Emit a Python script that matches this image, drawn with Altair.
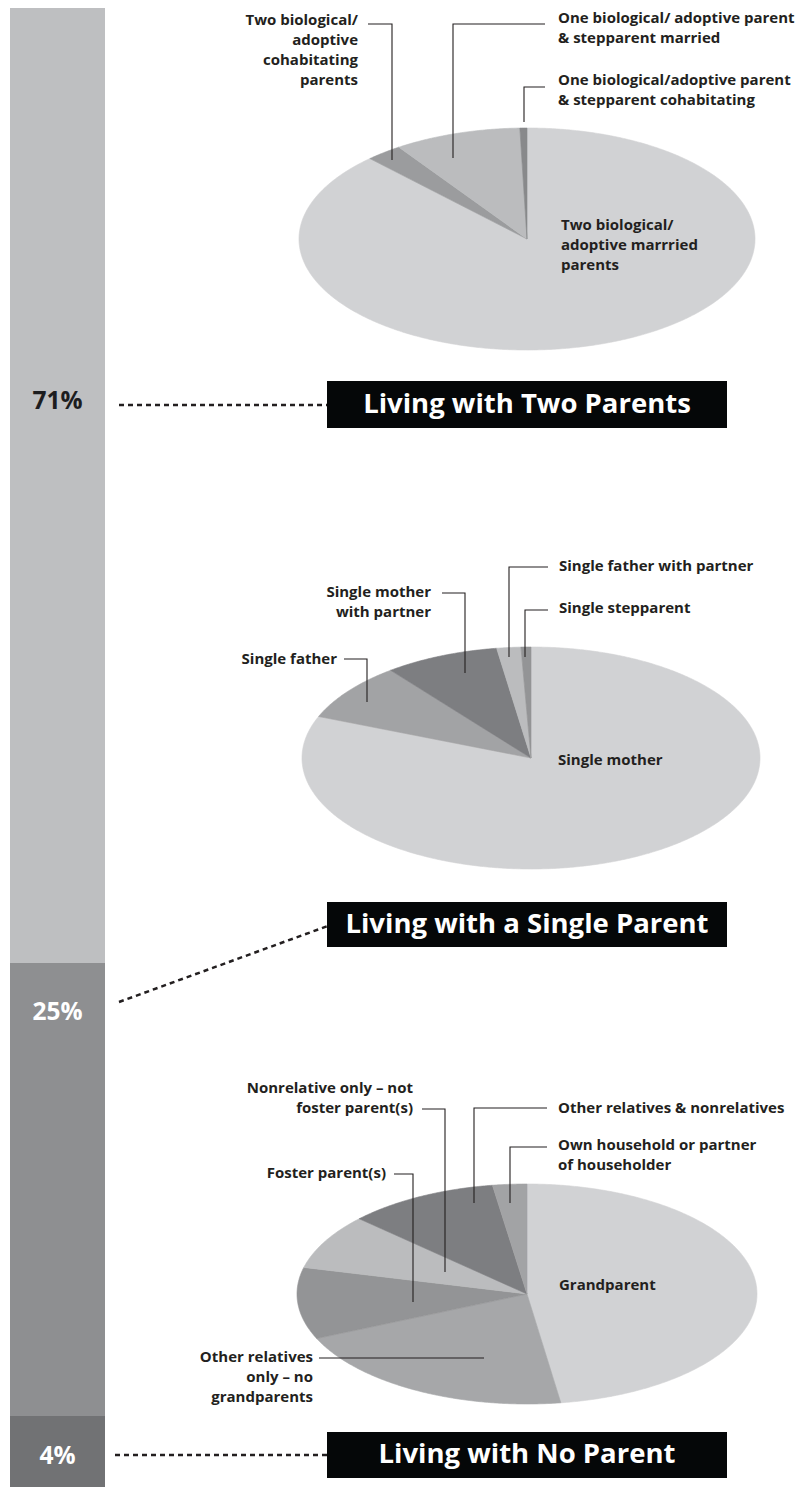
import altair as alt
import numpy as np
import pandas as pd

# ---------------- data ----------------
group_labels = ["Living with Two Parents", "Living with a Single Parent", "Living with No Parent"]
group_pcts = [71, 25, 4]

# each category written as its printed label lines
two_parent_cats = [
    ["Two biological/", "adoptive marrried", "parents"],
    ["Two biological/", "adoptive", "cohabitating", "parents"],
    ["One biological/ adoptive parent", "& stepparent married"],
    ["One biological/adoptive parent", "& stepparent cohabitating"],
]
two_parent_vals = [87.9, 2.6, 9.0, 0.5]

single_parent_cats = [
    ["Single mother"],
    ["Single father"],
    ["Single mother", "with partner"],
    ["Single father with partner"],
    ["Single stepparent"],
]
single_parent_vals = [81.1, 8.4, 8.1, 1.7, 0.7]

no_parent_cats = [
    ["Grandparent"],
    ["Other relatives", "only \u2013 no", "grandparents"],
    ["Foster parent(s)"],
    ["Nonrelative only \u2013 not", "foster parent(s)"],
    ["Other relatives & nonrelatives"],
    ["Own household or partner", "of householder"],
]
no_parent_vals = [47.6, 20.7, 10.5, 8.1, 10.6, 2.4]

# ---------------- styles ----------------
two_colors = ["#d1d2d4", "#9b9c9e", "#bbbcbe", "#88898b"]
single_colors = ["#d1d2d4", "#a2a3a5", "#7d7e81", "#bbbcbe", "#939496"]
none_colors = ["#d1d2d4", "#a6a7a9", "#939496", "#bbbcbe", "#7d7e81", "#a2a3a5"]
bar_colors = ["#bebfc1", "#8e8f91", "#717274"]
pct_text_colors = ["#1d1d1f", "#ffffff", "#ffffff"]
INK = "#231f20"
FONT = "Open Sans"
LABEL_SIZE = 15

# ---------------- layout (page pixels) ----------------
W, H = 796, 1471
X0, Y0 = 8, 8
xs = alt.Scale(domain=[X0, X0 + W], nice=False, zero=False)
ys = alt.Scale(domain=[Y0, Y0 + H], nice=False, zero=False, reverse=True)

pie_geom = [(527, 239, 228, 111), (531, 758, 229, 111), (527, 1294, 230, 110)]
bar_x = (10, 105)
bar_edges = [8, 963, 1416, 1487]
pct_y = [402, 1013, 1457]
box_x = (327, 727)
box_y = [(381, 428), (902, 947), (1432, 1478)]
dash_paths = [[(119, 405), (338, 405)], [(119, 1002), (336, 923)], [(115, 1455), (344, 1455)]]
LINE_H = 20

two_label_pos = [(561, 225, "left"), (358, 20, "right"), (558, 18, "left"), (558, 80, "left")]
two_leaders = [None, [(368, 24), (392, 24), (392, 160)], [(545, 24), (453, 24), (453, 158)],
               [(545, 87), (524, 87), (524, 122)]]
single_label_pos = [(558, 760, "left"), (337, 659, "right"), (431, 592, "right"),
                    (559, 566, "left"), (559, 608, "left")]
single_leaders = [None, [(344, 659), (367, 659), (367, 702)], [(442, 593), (465, 593), (465, 673)],
                  [(548, 567), (509, 567), (509, 657)], [(548, 610), (525, 610), (525, 657)]]
none_label_pos = [(559, 1285, "left"), (313, 1357, "right"), (386, 1173, "right"),
                  (413, 1088, "right"), (558, 1108, "left"), (558, 1145, "left")]
none_leaders = [None, [(319, 1358), (484, 1358)], [(394, 1174), (413, 1174), (413, 1302)],
                [(422, 1109), (445, 1109), (445, 1272)], [(547, 1108), (474, 1108), (474, 1203)],
                [(547, 1147), (510, 1147), (510, 1203)]]

pies = [
    (two_parent_cats, two_parent_vals, two_colors, two_label_pos, two_leaders),
    (single_parent_cats, single_parent_vals, single_colors, single_label_pos, single_leaders),
    (no_parent_cats, no_parent_vals, none_colors, none_label_pos, none_leaders),
]

# ---------------- build tables ----------------
slice_rows, text_rows, leader_rows = [], [], []
keys, key_colors = [], []
for p, (cats, vals, cols, lpos, leads) in enumerate(pies):
    cx, cy, rx, ry = pie_geom[p]
    total = float(sum(vals))
    start = 0.0
    for i, (lines, v) in enumerate(zip(cats, vals)):
        end = start + v / total * 360.0
        key = f"p{p}s{i}"
        keys.append(key)
        key_colors.append(cols[i])
        n = max(3, int((end - start) / 0.5) + 2)
        angs = np.radians(np.linspace(start, end, n))
        pts = [(cx, cy)] + [(cx + rx * np.sin(a), cy - ry * np.cos(a)) for a in angs] + [(cx, cy)]
        for j, (x, y) in enumerate(pts):
            slice_rows.append(dict(key=key, idx=j, x=x, y=y))
        start = end
        ax, ay, al = lpos[i]
        for k, t in enumerate(lines):
            text_rows.append(dict(text=t, x=ax, y=ay + k * LINE_H, side=al))
        if leads[i]:
            for j, (x, y) in enumerate(leads[i]):
                leader_rows.append(dict(key=key, idx=j, x=x, y=y))

slice_df = pd.DataFrame(slice_rows)
text_df = pd.DataFrame(text_rows)
leader_df = pd.DataFrame(leader_rows)

bar_df = pd.DataFrame(dict(
    grp=group_labels, pct=group_pcts,
    x=[bar_x[0]] * 3, x2=[bar_x[1]] * 3,
    y=bar_edges[:-1], y2=bar_edges[1:],
    ptxt=[f"{v}%" for v in group_pcts],
    px=[(bar_x[0] + bar_x[1]) / 2] * 3, py=pct_y,
))
box_df = pd.DataFrame(dict(
    grp=group_labels, x=[box_x[0]] * 3, x2=[box_x[1]] * 3,
    y=[b[0] for b in box_y], y2=[b[1] for b in box_y],
    tx=[(box_x[0] + box_x[1]) / 2] * 3, ty=[(b[0] + b[1]) / 2 for b in box_y],
))
dash_df = pd.DataFrame([dict(g=g, idx=j, x=x, y=y)
                        for g, path in enumerate(dash_paths) for j, (x, y) in enumerate(path)])

X = lambda f: alt.X(f, scale=xs, axis=None)
Y = lambda f: alt.Y(f, scale=ys, axis=None)

fill_scale = alt.Scale(domain=keys, range=key_colors)
bar_scale = alt.Scale(domain=group_labels, range=bar_colors)
pct_scale = alt.Scale(domain=group_labels, range=pct_text_colors)

bars = alt.Chart(bar_df).mark_rect().encode(
    x=X("x:Q"), x2="x2:Q", y=Y("y:Q"), y2="y2:Q",
    fill=alt.Fill("grp:N", scale=bar_scale, legend=None),
)
pct_text = alt.Chart(bar_df).mark_text(font=FONT, fontSize=24.5, fontWeight="bold",
                                       align="center", baseline="middle").encode(
    x=X("px:Q"), y=Y("py:Q"), text="ptxt:N",
    color=alt.Color("grp:N", scale=pct_scale, legend=None),
)
slices = alt.Chart(slice_df).mark_line(strokeWidth=0.6, strokeJoin="round").encode(
    x=X("x:Q"), y=Y("y:Q"), order="idx:Q", detail="key:N",
    fill=alt.Fill("key:N", scale=fill_scale, legend=None),
    stroke=alt.Stroke("key:N", scale=fill_scale, legend=None),
)
leaders = alt.Chart(leader_df).mark_line(color=INK, strokeWidth=1.1).encode(
    x=X("x:Q"), y=Y("y:Q"), order="idx:Q", detail="key:N",
)
dashes = alt.Chart(dash_df).mark_line(color=INK, strokeWidth=2.5, strokeDash=[5, 4]).encode(
    x=X("x:Q"), y=Y("y:Q"), order="idx:Q", detail="g:N",
)
boxes = alt.Chart(box_df).mark_rect(color="#050708").encode(
    x=X("x:Q"), x2="x2:Q", y=Y("y:Q"), y2="y2:Q",
)
box_text = alt.Chart(box_df).mark_text(font=FONT, fontSize=27.5, fontWeight="bold", color="white",
                                       align="center", baseline="middle").encode(
    x=X("tx:Q"), y=Y("ty:Q"), text="grp:N",
)
left_df = text_df[text_df["side"] == "left"]
right_df = text_df[text_df["side"] == "right"]
label_l = alt.Chart(left_df).mark_text(
    font=FONT, fontSize=LABEL_SIZE, fontWeight="bold", color=INK, align="left", baseline="middle").encode(
    x=X("x:Q"), y=Y("y:Q"), text="text:N")
label_r = alt.Chart(right_df).mark_text(
    font=FONT, fontSize=LABEL_SIZE, fontWeight="bold", color=INK, align="right", baseline="middle").encode(
    x=X("x:Q"), y=Y("y:Q"), text="text:N")

chart = alt.layer(bars, slices, leaders, dashes, boxes, box_text, pct_text, label_l, label_r).resolve_scale(
    color="independent", fill="independent", stroke="independent"
).properties(
    width=W, height=H, padding=0, background="white"
).configure_view(stroke=None)

chart.save("out.html", embed_options={"renderer": "svg", "actions": False})
